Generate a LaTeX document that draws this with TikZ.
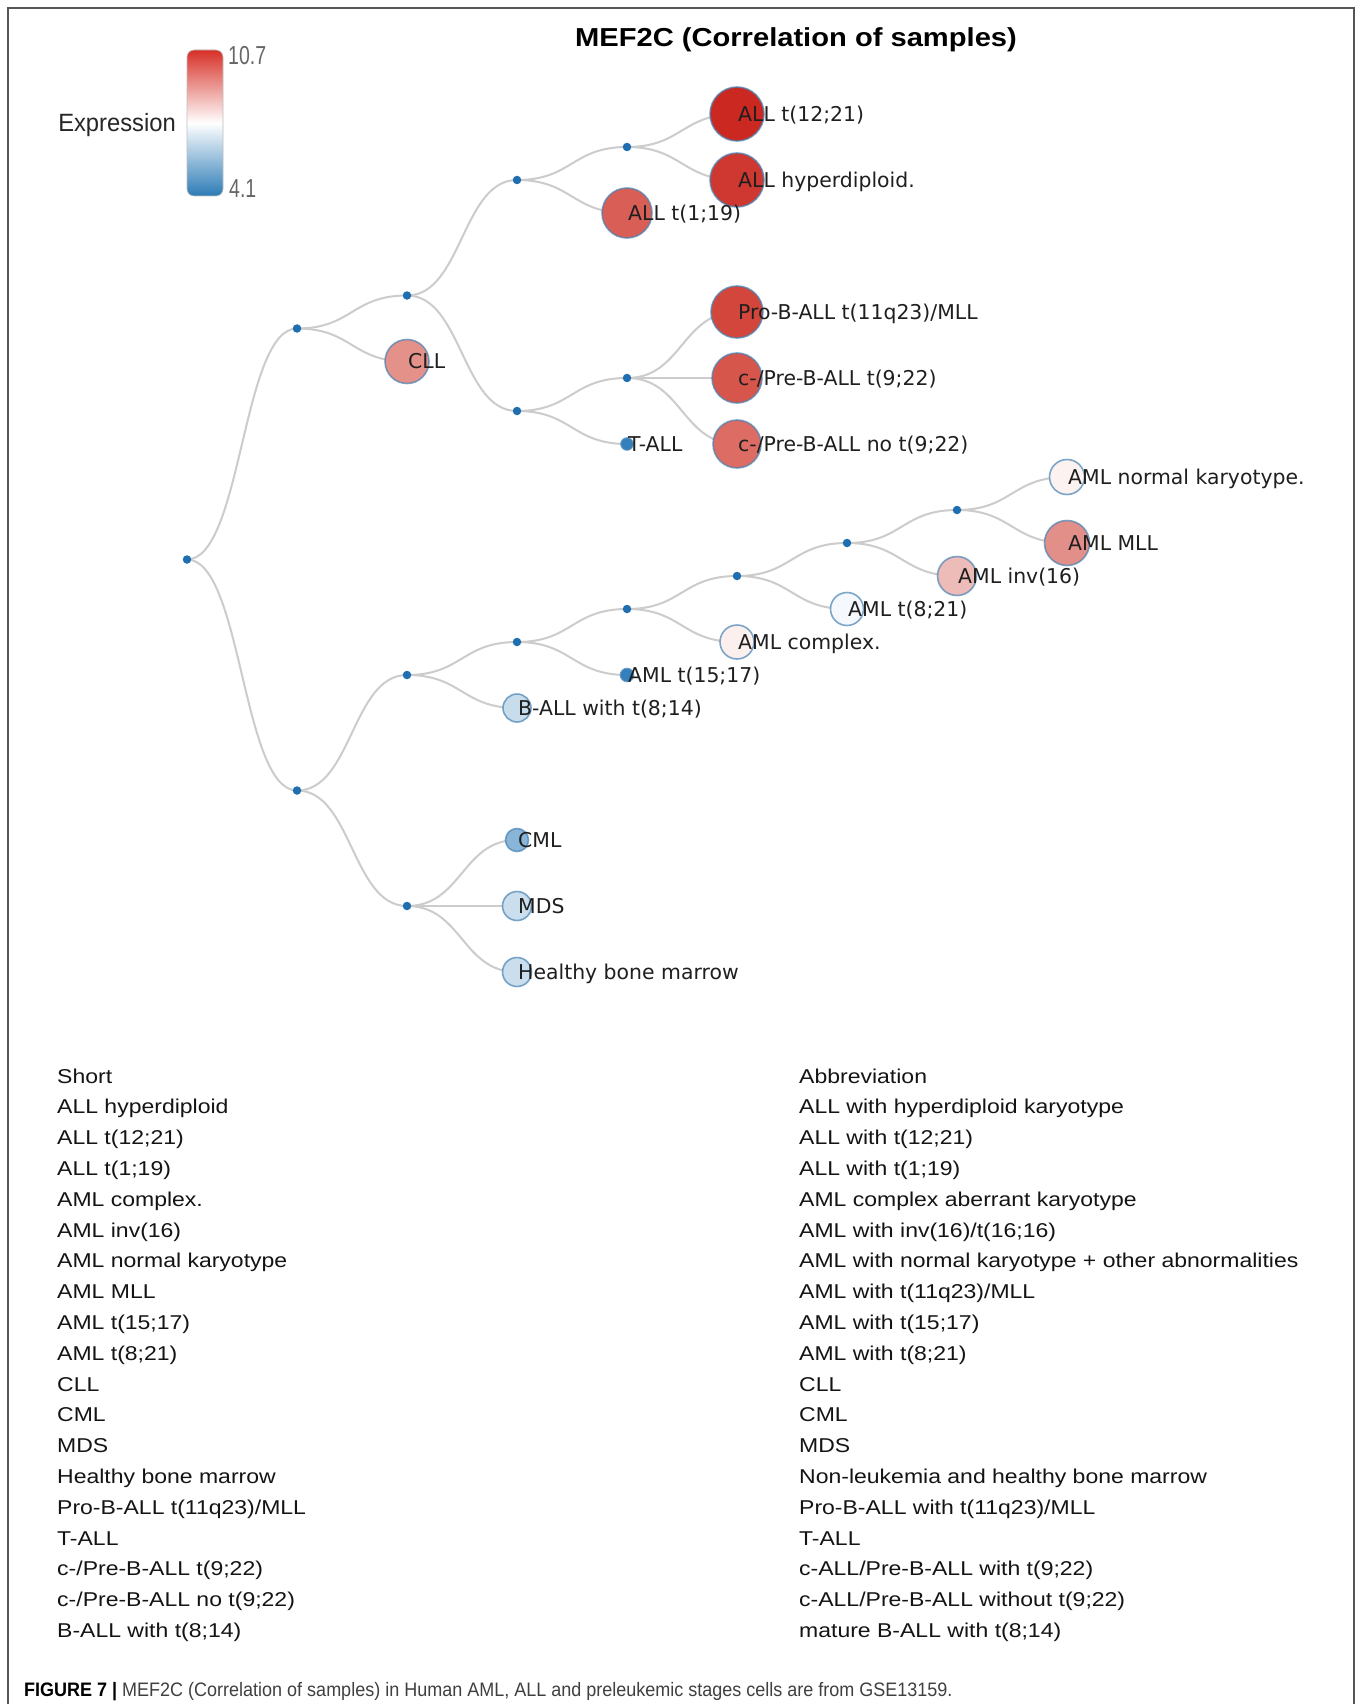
\documentclass[tikz,border=0pt]{standalone}
\usepackage{fontspec}
\setmainfont{Liberation Sans}
\newfontfamily\treefont{DejaVu Sans}
\newfontfamily\tabfont[FakeStretch=1.15]{Liberation Sans}
\newfontfamily\titlefont[FakeStretch=1.12]{Liberation Sans}
\newfontfamily\legfont[FakeStretch=0.75]{Liberation Sans}
\newfontfamily\expfont[FakeStretch=0.95]{Liberation Sans}
\newfontfamily\capfont[FakeStretch=0.923]{Liberation Sans}
\usetikzlibrary{backgrounds}
\definecolor{linkgray}{RGB}{204,204,204}
\definecolor{dotblue}{RGB}{31,110,175}
\definecolor{ringblue}{RGB}{70,130,180}
\definecolor{framegray}{RGB}{85,85,85}
\definecolor{barred}{RGB}{215,48,39}
\definecolor{barblue}{RGB}{44,123,182}
\definecolor{colA}{RGB}{203,40,34}
\definecolor{colB}{RGB}{206,56,48}
\definecolor{colC}{RGB}{217,94,86}
\definecolor{colD}{RGB}{228,145,138}
\definecolor{colE}{RGB}{211,70,60}
\definecolor{colF}{RGB}{215,86,76}
\definecolor{colG}{RGB}{220,108,100}
\definecolor{colH}{RGB}{52,128,189}
\definecolor{colI}{RGB}{252,242,240}
\definecolor{colJ}{RGB}{226,143,137}
\definecolor{colK}{RGB}{238,188,184}
\definecolor{colL}{RGB}{245,248,252}
\definecolor{colM}{RGB}{252,240,238}
\definecolor{colN}{RGB}{200,221,236}
\definecolor{colO}{RGB}{137,181,216}
\definecolor{colP}{RGB}{203,222,237}
\def\leaflist{t1221/5/0/27/colA/{ALL t(12;21)}, hyper/5/2/27/colB/{ALL hyperdiploid.}, t119/4/3/25/colC/{ALL t(1;19)}, cll/2/7.5/22/colD/CLL, prob/5/6/26/colE/{Pro-B-ALL t(11q23)/MLL}, pre922/5/8/25/colF/{c-/Pre-B-ALL t(9;22)}, preno/5/10/24/colG/{c-/Pre-B-ALL no t(9;22)}, tall/4/10/6/colH/T-ALL, amlnk/8/11/17.5/colI/{AML normal karyotype.}, amlmll/8/13/22.5/colJ/{AML MLL}, inv16/7/14/19.5/colK/{AML inv(16)}, t821/6/15/16.5/colL/{AML t(8;21)}, cplx/5/16/17/colM/{AML complex.}, t1517/4/17/6.5/colH/{AML t(15;17)}, ball/3/18/14/colN/{B-ALL with t(8;14)}, cml/3/22/11.5/colO/CML, mds/3/24/14.5/colP/MDS, hbm/3/26/14.5/colP/{Healthy bone marrow}}
\begin{document}
\begin{tikzpicture}[x=1pt, y=-1pt,
  link/.style={draw=linkgray, line width=2pt},
  dot/.style={circle, fill=dotblue, inner sep=0pt, minimum size=8.5pt},
  leaf/.style={circle, draw=ringblue, draw opacity=0.7, line width=1.6pt, inner sep=0pt},
  leaflbl/.style={anchor=base west, inner sep=0pt, text=black!88, font=\treefont\fontsize{20.4}{24}\selectfont},
  tabtxt/.style={anchor=base west, inner sep=0pt, text=black!92, font=\tabfont\fontsize{20}{24}\selectfont}]
\begin{scope}[on background layer]
\fill[white] (0,0) rectangle (1360,1704);
\end{scope}
\useasboundingbox (0,0) rectangle (1360,1704);
\draw[framegray, line width=1.6pt] (8,1704) -- (8,8) -- (1354,8) -- (1354,1704);
\node[anchor=base, inner sep=0pt, font=\titlefont\bfseries\fontsize{26}{30}\selectfont] (title) at (796,47) {MEF2C (Correlation of samples)};
\shade[top color=barred, bottom color=barblue, middle color=white, rounded corners=7pt] (187,50) rectangle (223,196);
\draw[black!25, line width=0.6pt, rounded corners=7pt] (187,50) rectangle (223,196);
\node[anchor=base west, inner sep=0pt, text=black!60, font=\legfont\fontsize{26}{30}\selectfont] (hi) at (228,65) {10.7};
\node[anchor=base west, inner sep=0pt, text=black!60, font=\legfont\fontsize{26}{30}\selectfont] (lo) at (229,198) {4.1};
\node[anchor=base, inner sep=0pt, text=black!85, font=\expfont\fontsize{25}{30}\selectfont] (exprlbl) at (117,132) {Expression};
\begin{scope}[shift={(187,114)}, x=110pt, y=-33pt]
\foreach \nm/\lx/\ly in {root/0/13.5, b1/1/6.5, b2/1/20.5, b3/2/5.5, b4/3/2, b5/4/1, b6/3/9, b7/4/8, b8/2/17, b9/3/16, b10/4/15, b11/5/14, b12/6/13, b13/7/12, b14/2/24}
  \node[dot] (\nm) at (\lx,\ly) {};
\foreach \nm/\lx/\ly/\rad/\col/\txt in \leaflist
  \node[leaf, minimum size={2pt*\rad}, fill=\col] (\nm) at (\lx,\ly) {};
\foreach \nm/\lx/\ly/\rad/\col/\txt in \leaflist
  \node[leaflbl] (\nm-l) at ([xshift=1pt, yshift=-7.4pt]\nm.center) {\txt};
\begin{scope}[on background layer]
\foreach \p/\c in {root/b1, root/b2, b1/b3, b1/cll, b3/b4, b3/b6, b4/b5, b4/t119, b5/t1221, b5/hyper, b6/b7, b6/tall, b7/prob, b7/pre922, b7/preno, b2/b8, b2/b14, b8/b9, b8/ball, b9/b10, b9/t1517, b10/b11, b10/cplx, b11/b12, b11/t821, b12/b13, b12/inv16, b13/amlnk, b13/amlmll, b14/cml, b14/mds, b14/hbm}
  \draw[link] (\p.center) .. controls +(0.5,0) and +(-0.5,0) .. (\c.center);
\end{scope}
\end{scope}
\foreach \i/\sh/\ab in {0/Short/Abbreviation, 1/ALL hyperdiploid/ALL with hyperdiploid karyotype, 2/ALL t(12;21)/ALL with t(12;21), 3/ALL t(1;19)/ALL with t(1;19), 4/AML complex./AML complex aberrant karyotype, 5/AML inv(16)/{AML with inv(16)/t(16;16)}, 6/AML normal karyotype/AML with normal karyotype + other abnormalities, 7/AML MLL/{AML with t(11q23)/MLL}, 8/AML t(15;17)/AML with t(15;17), 9/AML t(8;21)/AML with t(8;21), 10/CLL/CLL, 11/CML/CML, 12/MDS/MDS, 13/Healthy bone marrow/Non-leukemia and healthy bone marrow, 14/{Pro-B-ALL t(11q23)/MLL}/{Pro-B-ALL with t(11q23)/MLL}, 15/T-ALL/T-ALL, 16/{c-/Pre-B-ALL t(9;22)}/{c-ALL/Pre-B-ALL with t(9;22)}, 17/{c-/Pre-B-ALL no t(9;22)}/{c-ALL/Pre-B-ALL without t(9;22)}, 18/B-ALL with t(8;14)/mature B-ALL with t(8;14)} {
  \node[tabtxt] (sh\i) at (57,{1083+30.81*\i}) {\sh};
  \node[tabtxt] (ab\i) at (799,{1083+30.81*\i}) {\ab};
}
\node[anchor=base west, inner sep=0pt, text=black!75, font=\capfont\fontsize{19.5}{23}\selectfont] (caption) at (24,1696) {{\color{black}\bfseries FIGURE 7 |} MEF2C (Correlation of samples) in Human AML, ALL and preleukemic stages cells are from GSE13159.};
\end{tikzpicture}
\end{document}
